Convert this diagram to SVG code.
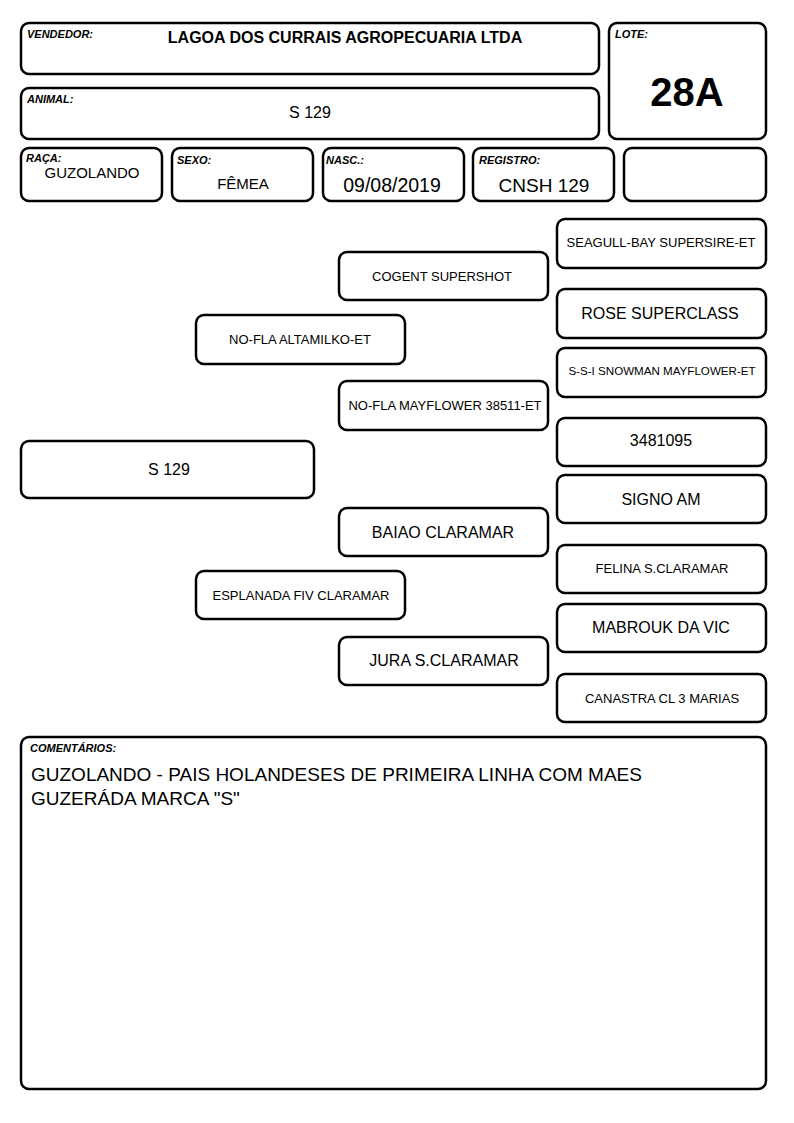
<svg xmlns="http://www.w3.org/2000/svg" width="794" height="1123" viewBox="0 0 794 1123">
<style>
.b{fill:#fff;stroke:#000;stroke-width:2.5}
text{font-family:"Liberation Sans",Arial,sans-serif;fill:#000}
.l{font-size:11px;font-weight:bold;font-style:italic}
.c{text-anchor:middle}
</style>
<rect width="794" height="1123" fill="#fff"/>
<g id="vendedor"><rect class="b" x="21" y="23" width="578" height="51" rx="8"/><text class="l" x="27" y="38">VENDEDOR:</text><text class="c" x="345" y="43" font-size="16" font-weight="bold">LAGOA DOS CURRAIS AGROPECUARIA LTDA</text></g>
<g id="animal"><rect class="b" x="21" y="88" width="578" height="51" rx="8"/><text class="l" x="27" y="103">ANIMAL:</text><text class="c" x="310" y="118" font-size="16">S 129</text></g>
<g id="lote"><rect class="b" x="609" y="23" width="157" height="116" rx="8"/><text class="l" x="615" y="38">LOTE:</text><text class="c" x="687" y="106" font-size="40" font-weight="bold">28A</text></g>
<g id="raca"><rect class="b" x="21" y="148" width="141" height="53" rx="8"/><text class="l" x="26" y="162">RAÇA:</text><text class="c" x="92" y="178" font-size="15">GUZOLANDO</text></g>
<g id="sexo"><rect class="b" x="172" y="148" width="141" height="53" rx="8"/><text class="l" x="177" y="164">SEXO:</text><text class="c" x="243" y="189" font-size="15">FÊMEA</text></g>
<g id="nasc"><rect class="b" x="323" y="148" width="141" height="53" rx="8"/><text class="l" x="326" y="164">NASC.:</text><text class="c" x="392" y="192" font-size="19.5">09/08/2019</text></g>
<g id="registro"><rect class="b" x="473" y="148" width="141" height="53" rx="8"/><text class="l" x="479" y="164">REGISTRO:</text><text class="c" x="544" y="192" font-size="19">CNSH 129</text></g>
<g id="vazio"><rect class="b" x="624" y="148" width="142" height="53" rx="8"/></g>
<g id="connectors"></g>
<g id="seagull"><rect class="b" x="557" y="219" width="209" height="49" rx="8"/><text class="c" x="661" y="247" font-size="13">SEAGULL-BAY SUPERSIRE-ET</text></g>
<g id="cogent"><rect class="b" x="339" y="252" width="209" height="48" rx="8"/><text class="c" x="442" y="281" font-size="13">COGENT SUPERSHOT</text></g>
<g id="rose"><rect class="b" x="557" y="289" width="209" height="49" rx="8"/><text class="c" x="660" y="319" font-size="16">ROSE SUPERCLASS</text></g>
<g id="altamilko"><rect class="b" x="196" y="315" width="209" height="49" rx="8"/><text class="c" x="300" y="344" font-size="13">NO-FLA ALTAMILKO-ET</text></g>
<g id="ssi"><rect class="b" x="557" y="348" width="209" height="49" rx="8"/><text class="c" x="662" y="375" font-size="11.6">S-S-I SNOWMAN MAYFLOWER-ET</text></g>
<g id="mayflower"><rect class="b" x="339" y="381" width="209" height="49" rx="8"/><text class="c" x="445" y="410" font-size="13">NO-FLA MAYFLOWER 38511-ET</text></g>
<g id="n3481095"><rect class="b" x="557" y="418" width="209" height="48" rx="8"/><text class="c" x="661" y="446" font-size="16">3481095</text></g>
<g id="s129"><rect class="b" x="21" y="441" width="293" height="57" rx="8"/><text class="c" x="169" y="475" font-size="16">S 129</text></g>
<g id="signo"><rect class="b" x="557" y="475" width="209" height="48" rx="8"/><text class="c" x="661" y="505" font-size="16">SIGNO AM</text></g>
<g id="baiao"><rect class="b" x="339" y="508" width="209" height="48" rx="8"/><text class="c" x="443" y="538" font-size="16">BAIAO CLARAMAR</text></g>
<g id="felina"><rect class="b" x="557" y="545" width="209" height="48" rx="8"/><text class="c" x="662" y="573" font-size="13">FELINA S.CLARAMAR</text></g>
<g id="esplanada"><rect class="b" x="196" y="571" width="209" height="48" rx="8"/><text class="c" x="301" y="600" font-size="13">ESPLANADA FIV CLARAMAR</text></g>
<g id="mabrouk"><rect class="b" x="557" y="604" width="209" height="48" rx="8"/><text class="c" x="661" y="633" font-size="16">MABROUK DA VIC</text></g>
<g id="jura"><rect class="b" x="339" y="637" width="209" height="48" rx="8"/><text class="c" x="444" y="666" font-size="16">JURA S.CLARAMAR</text></g>
<g id="canastra"><rect class="b" x="557" y="674" width="209" height="48" rx="8"/><text class="c" x="662" y="703" font-size="13">CANASTRA CL 3 MARIAS</text></g>
<g id="comentarios"><rect class="b" x="21" y="737" width="745" height="352" rx="8"/><text class="l" x="30" y="752">COMENTÁRIOS:</text><text x="31" y="781" font-size="19">GUZOLANDO - PAIS HOLANDESES DE PRIMEIRA LINHA COM MAES</text><text x="31" y="805" font-size="19">GUZERÁDA MARCA "S"</text></g>
</svg>
